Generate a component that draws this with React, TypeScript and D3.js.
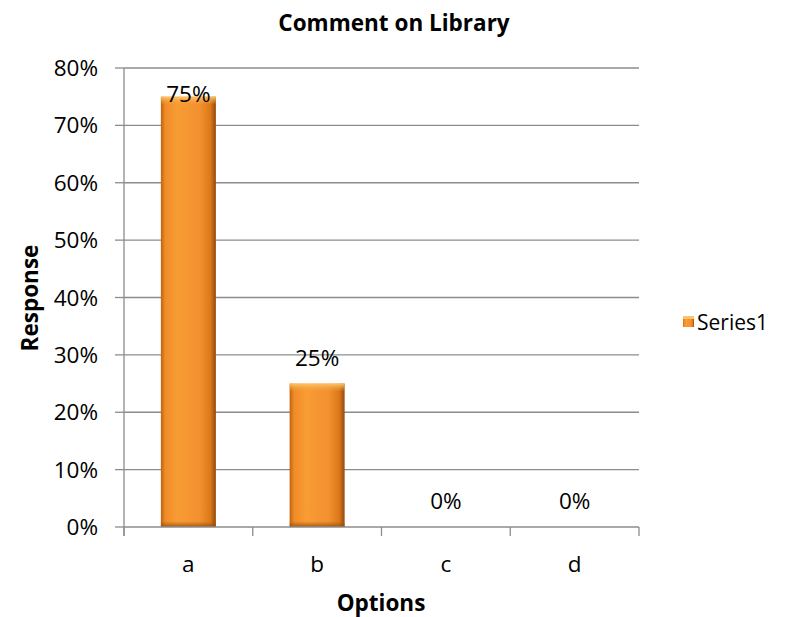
import React from "react";
import * as d3 from "d3";

const categories = ["a", "b", "c", "d"];
const values = [0.75, 0.25, 0, 0];
const yTicks = [0, 0.1, 0.2, 0.3, 0.4, 0.5, 0.6, 0.7, 0.8];
const seriesName = "Series1";
const title = "Comment on Library";
const xTitle = "Options";
const yTitle = "Response";

const W = 793;
const H = 617;
const FONT = "'Open Sans', 'Noto Sans', sans-serif";

export default function App() {
  const left = 124, right = 639, top = 68, bottom = 527;
  const x = d3.scaleBand<string>().domain(categories).range([left, right]);
  const y = d3.scaleLinear().domain([0, 0.8]).range([bottom, top]);
  const barW = 55;
  const fmt = d3.format(".0%");
  const fs = 22.5;

  return (
    <svg width={W} height={H} style={{ position: "absolute", left: 0, top: 0 }} fontFamily={FONT}>
      <defs>
        <linearGradient id="barG" x1="0" x2="1" y1="0" y2="0">
          <stop offset="0" stopColor="#c0620f" />
          <stop offset="0.08" stopColor="#f08c28" />
          <stop offset="0.3" stopColor="#f89c34" />
          <stop offset="0.7" stopColor="#f39030" />
          <stop offset="0.9" stopColor="#dc7a1a" />
          <stop offset="1" stopColor="#94490c" />
        </linearGradient>
        <linearGradient id="topG" x1="0" x2="0" y1="0" y2="1">
          <stop offset="0" stopColor="#fcc56a" />
          <stop offset="1" stopColor="#f7a23a" stopOpacity="0" />
        </linearGradient>
        <linearGradient id="botG" x1="0" x2="0" y1="0" y2="1">
          <stop offset="0" stopColor="#b05a10" stopOpacity="0" />
          <stop offset="1" stopColor="#8a4608" stopOpacity="0.8" />
        </linearGradient>
      </defs>
      <rect width={W} height={H} fill="#fff" />
      <text x={394} y={31} textAnchor="middle" fontSize={fs} fontWeight="bold">{title}</text>
      {yTicks.map((t) => (
        <g key={t}>
          {t > 0 && <line x1={left} x2={right} y1={y(t)} y2={y(t)} stroke="#8c8c8c" strokeWidth={1.3} />}
          <line x1={left - 9} x2={left} y1={y(t)} y2={y(t)} stroke="#8c8c8c" strokeWidth={1.3} />
          <text x={98} y={y(t) + 8} textAnchor="end" fontSize={fs}>{fmt(t)}</text>
        </g>
      ))}
      {categories.map((c, i) => {
        const v = values[i];
        const cx = (x(c) as number) + x.bandwidth() / 2;
        const yt = y(v);
        const h = bottom - yt;
        const labelY = Math.max(yt - 18, top + 34);
        return (
          <g key={c}>
            {h > 0 && (
              <g>
                <rect x={cx - barW / 2} y={yt} width={barW} height={h} fill="url(#barG)" />
                <rect x={cx - barW / 2} y={yt} width={barW} height={Math.min(8, h)} fill="url(#topG)" />
                <rect x={cx - barW / 2} y={bottom - 6} width={barW} height={6} fill="url(#botG)" />
              </g>
            )}
            <text x={cx} y={labelY} textAnchor="middle" fontSize={fs}>{fmt(v)}</text>
            <text x={cx} y={572} textAnchor="middle" fontSize={fs}>{c}</text>
          </g>
        );
      })}
      <line x1={left} x2={left} y1={top} y2={bottom + 9} stroke="#8c8c8c" strokeWidth={1.3} />
      <line x1={left} x2={right} y1={bottom} y2={bottom} stroke="#8c8c8c" strokeWidth={1.3} />
      {categories.concat([""]).map((c, i) => {
        const xx = left + i * x.bandwidth();
        return <line key={i} x1={xx} x2={xx} y1={bottom} y2={bottom + 9} stroke="#8c8c8c" strokeWidth={1.3} />;
      })}
      <text x={381} y={611} textAnchor="middle" fontSize={fs} fontWeight="bold">{xTitle}</text>
      <text transform={`translate(38,298) rotate(-90)`} textAnchor="middle" fontSize={fs} fontWeight="bold">{yTitle}</text>
      <rect x={683} y={316} width={11} height={11} fill="url(#barG)" />
      <rect x={683} y={316} width={11} height={3} fill="#fcc56a" />
      <text x={697} y={330} fontSize={21}>{seriesName}</text>
    </svg>
  );
}
